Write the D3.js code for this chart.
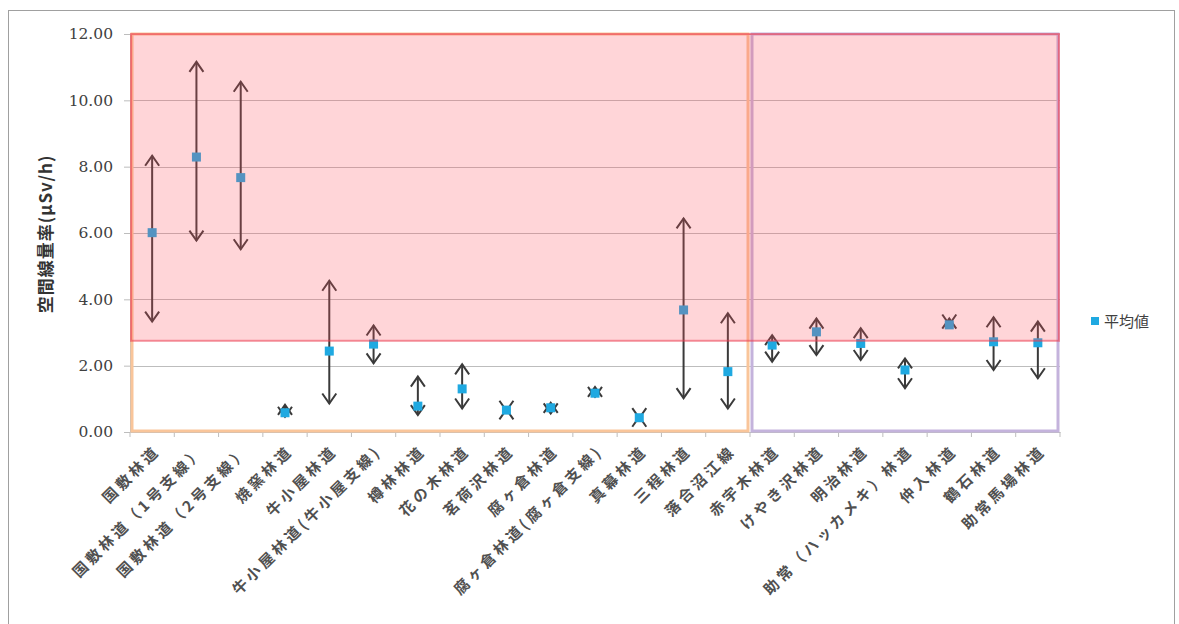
<!DOCTYPE html>
<html><head><meta charset="utf-8">
<script src="https://cdn.jsdelivr.net/npm/d3@7/dist/d3.min.js"></script>
<style>body{margin:0;background:#fff;} svg{display:block;}</style>
</head><body>
<svg id="chart" width="1179" height="624"></svg>
<script>
const categories = ["国敷林道","国敷林道（1号支線）","国敷林道（2号支線）","焼窯林道","牛小屋林道","牛小屋林道(牛小屋支線)","樽林林道","花の木林道","茗荷沢林道","腐ヶ倉林道","腐ヶ倉林道(腐ヶ倉支線)","真幕林道","三程林道","落合沼江線","赤宇木林道","けやき沢林道","明治林道","助常（ハッカメキ）林道","仲入林道","鶴石林道","助常馬場林道"];
const meanValues = [6.01,8.29,7.67,0.58,2.44,2.65,0.78,1.30,0.66,0.73,1.17,0.43,3.68,1.82,2.62,3.02,2.67,1.87,3.23,2.72,2.69];
const maxValues  = [8.33,11.16,10.56,0.82,4.56,3.21,1.67,2.04,0.68,0.88,1.36,0.46,6.44,3.58,2.92,3.42,3.13,2.22,3.42,3.46,3.33];
const minValues  = [3.33,5.77,5.51,0.46,0.86,2.07,0.51,0.71,0.64,0.56,1.06,0.42,1.02,0.71,2.12,2.32,2.17,1.32,3.24,1.87,1.62];
const yTicks = [0,2,4,6,8,10,12];
const groupA = [0,13];   // orange framed group (category index range)
const groupB = [14,20];  // purple framed group
const threshold = 2.75;
const yTitle = "空間線量率(μSv/h)";
const legendLabel = "平均値";

const svg = d3.select("#chart");
const x = d3.scaleBand().domain(categories).range([130,1060]).padding(0);
const y = d3.scaleLinear().domain([0,12]).range([432,34]);
const cx = i => x(categories[i]) + x.bandwidth()/2;

// outer frame
svg.append("rect").attr("x",8.5).attr("y",10.5).attr("width",1166).attr("height",620)
  .attr("fill","none").attr("stroke","#a0a0a0").attr("stroke-width",1);

// gridlines
svg.append("g").selectAll("line").data(yTicks.filter(d=>d>0)).join("line")
  .attr("x1",130).attr("x2",1060).attr("y1",d=>Math.round(y(d))+0.5).attr("y2",d=>Math.round(y(d))+0.5)
  .attr("stroke","#bdbdbd").attr("stroke-width",1.2);

// axes
const yAxis = d3.axisLeft(y).tickValues(yTicks).tickFormat(d3.format(".2f")).tickSize(6).tickSizeOuter(0);
const gy = svg.append("g").attr("transform","translate(130,0)").call(yAxis);
gy.select(".domain").attr("stroke","#bdbdbd");
gy.selectAll(".tick line").attr("stroke","#bdbdbd");
gy.selectAll(".tick text").attr("x",-17).attr("font-family","DejaVu Serif, serif").attr("font-size",15.5).attr("fill","#404040");

const xAxis = d3.axisBottom(x).tickSize(0).tickSizeOuter(0);
const gx = svg.append("g").attr("transform","translate(0,432)").call(xAxis);
gx.select(".domain").attr("stroke","#bdbdbd");
gx.selectAll(".tick text")
  .attr("font-family","Noto Sans CJK JP, sans-serif").attr("font-size",15).attr("font-weight","bold").attr("fill","#505050")
  .attr("letter-spacing","3.5px")
  .attr("text-anchor","end").attr("dy",0).attr("y",0)
  .attr("transform","translate(9,20) rotate(-45)");
// boundary ticks
const bounds = d3.range(categories.length+1).map(i => 130 + i*x.bandwidth());
svg.append("g").selectAll("line").data(bounds).join("line")
  .attr("x1",d=>d).attr("x2",d=>d).attr("y1",432).attr("y2",437).attr("stroke","#bdbdbd");

// group frames
function frame(g, color){
  const x0 = x(categories[g[0]]), x1 = x(categories[g[1]]) + x.bandwidth();
  svg.append("rect").attr("x",x0+2).attr("y",y(12)).attr("width",x1-x0-4).attr("height",y(0)-y(12)-1)
    .attr("fill","none").attr("stroke",color).attr("stroke-width",3);
}
frame(groupA,"#f9c59a");
frame(groupB,"#c4b3dc");

// range arrows
const ah = 10, aw = 7;
const arrows = svg.append("g").attr("fill","none").attr("stroke","#3a3a3a").attr("stroke-width",2).attr("stroke-linejoin","miter");
categories.forEach((c,i)=>{
  const px = cx(i), ty = y(maxValues[i]), by = y(minValues[i]);
  arrows.append("line").attr("x1",px).attr("x2",px).attr("y1",ty).attr("y2",by);
  arrows.append("path").attr("d",`M${px-aw},${ty+ah}L${px},${ty}L${px+aw},${ty+ah}`);
  arrows.append("path").attr("d",`M${px-aw},${by-ah}L${px},${by}L${px+aw},${by-ah}`);
});

// mean markers
svg.append("g").selectAll("rect").data(meanValues).join("rect")
  .attr("x",(d,i)=>cx(i)-4.5).attr("y",d=>y(d)-4.5).attr("width",9).attr("height",9)
  .attr("fill","#1fa9e1");

// pink overlay
svg.append("rect").attr("x",131).attr("y",y(12)).attr("width",928).attr("height",y(threshold)-y(12))
  .attr("fill","rgba(255,80,90,0.24)").attr("stroke","rgba(235,60,80,0.55)").attr("stroke-width",2);

// y title
svg.append("text").attr("transform","translate(52,234) rotate(-90)").attr("text-anchor","middle")
  .attr("font-family","Noto Sans CJK JP, sans-serif").attr("font-size",17).attr("font-weight","bold").attr("fill","#333")
  .attr("letter-spacing","1px")
  .text(yTitle);

// legend
svg.append("rect").attr("x",1091).attr("y",317).attr("width",8).attr("height",8).attr("fill","#1fa9e1");
svg.append("text").attr("x",1104).attr("y",327).attr("font-family","Noto Sans CJK JP, sans-serif").attr("font-size",15).attr("fill","#404040").text(legendLabel);
</script>
</body></html>
